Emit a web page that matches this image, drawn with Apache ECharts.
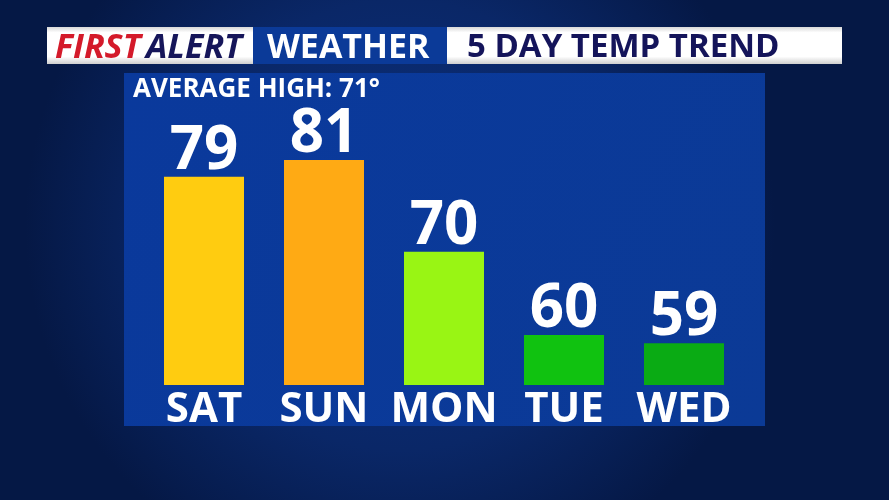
<!DOCTYPE html>
<html>
<head>
<meta charset="utf-8">
<script src="https://cdn.jsdelivr.net/npm/echarts@6/dist/echarts.min.js"></script>
<style>html,body{margin:0;padding:0;background:#08215a;}#c{width:889px;height:500px;}</style>
</head>
<body>
<div id="c"></div>
<script>
var days = ['SAT', 'SUN', 'MON', 'TUE', 'WED'];
var temps = [79, 81, 70, 60, 59];
var barColors = ['#ffcc10', '#ffaa14', '#99f514', '#10c210', '#0aab14'];
var averageHigh = 71;

var FONT = '"Open Sans", "DejaVu Sans", sans-serif';
var chart = echarts.init(document.getElementById('c'), null, {renderer: 'canvas'});

function whiteGrad() {
  return new echarts.graphic.LinearGradient(0, 0, 0, 1, [
    {offset: 0, color: '#d8d8d8'}, {offset: 0.15, color: '#ffffff'},
    {offset: 0.8, color: '#ffffff'}, {offset: 1, color: '#cfcfcf'}
  ]);
}

chart.setOption({
  backgroundColor: {
    type: 'radial', x: 0.45, y: 0.45, r: 0.75,
    colorStops: [
      {offset: 0, color: '#0b3180'}, {offset: 0.6, color: '#0a2767'}, {offset: 1, color: '#051845'}
    ]
  },
  animation: false,
  graphic: [
    {type: 'rect', z: 0, shape: {x: 124, y: 73, width: 641, height: 353},
      style: {fill: new echarts.graphic.LinearGradient(0, 0, 1, 1, [
        {offset: 0, color: '#0a399c'}, {offset: 1, color: '#0b3a96'}])}},
    {type: 'rect', z: 0, shape: {x: 47, y: 27, width: 206, height: 37}, style: {fill: whiteGrad()}},
    {type: 'rect', z: 0, shape: {x: 253, y: 27, width: 194, height: 37}, style: {fill: '#0b3a98'}},
    {type: 'rect', z: 0, shape: {x: 447, y: 27, width: 395, height: 37}, style: {fill: whiteGrad()}},
    {type: 'text', z: 5, left: 55, top: 31, style: {text: 'FIRST', fill: '#d41a2a', font: 'italic bold 34px ' + FONT}},
    {type: 'text', z: 5, left: 146, top: 31, style: {text: 'ALERT', fill: '#16165a', font: 'italic bold 34px ' + FONT}},
    {type: 'text', z: 5, left: 267, top: 31, style: {text: 'WEATHER', fill: '#ffffff', font: 'bold 34px ' + FONT}},
    {type: 'text', z: 5, left: 467, top: 31, style: {text: '5 DAY TEMP TREND', fill: '#14145a', font: 'bold 33px ' + FONT}},
    {type: 'text', z: 5, left: 133, top: 77, style: {text: 'AVERAGE HIGH: ' + averageHigh + '°', fill: '#ffffff', font: 'bold 26px ' + FONT}}
  ],
  grid: {left: 144, right: 145, top: 101.7, bottom: 115, containLabel: false},
  xAxis: {
    type: 'category', data: days,
    axisLine: {show: false}, axisTick: {show: false},
    axisLabel: {interval: 0, color: '#ffffff', fontSize: 42, fontWeight: 'bold', fontFamily: FONT, margin: 4}
  },
  yAxis: {
    type: 'value', min: 54, max: 88,
    show: false, splitLine: {show: false}
  },
  series: [{
    type: 'bar', barWidth: 80,
    data: temps.map(function (v, i) { return {value: v, itemStyle: {color: barColors[i]}}; }),
    label: {show: true, position: 'top', distance: -5, color: '#ffffff', fontSize: 60, fontWeight: 'bold', fontFamily: FONT}
  }]
});
</script>
</body>
</html>
